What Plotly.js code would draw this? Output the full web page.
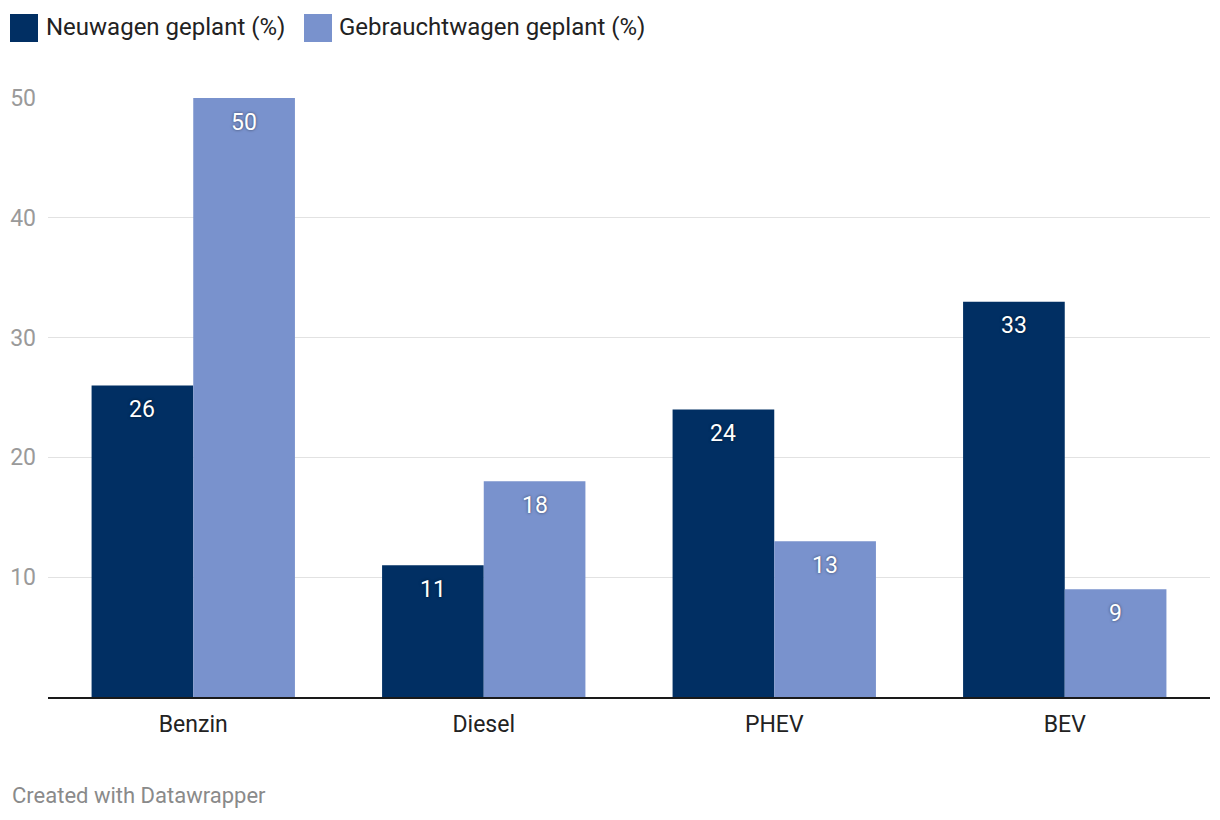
<!DOCTYPE html>
<html>
<head>
<meta charset="utf-8">
<script src="https://cdn.plot.ly/plotly-3.0.1.min.js"></script>
<style>html,body{margin:0;padding:0;background:#fff;}#chart{width:1220px;height:820px;}</style>
</head>
<body>
<div id="chart"></div>
<script>
const categories = ["Benzin", "Diesel", "PHEV", "BEV"];
const neuwagen = [26, 11, 24, 33];
const gebrauchtwagen = [50, 18, 13, 9];
const seriesNames = ["Neuwagen geplant (%)", "Gebrauchtwagen geplant (%)"];
const yTicks = [10, 20, 30, 40, 50];

const colors = ["#012f63", "#7992cd"];
const W = 1220, H = 820;
const margin = {l: 48, r: 10, t: 98, b: 123};
const bargap = 0.3;
const plotW = W - margin.l - margin.r;
const catW = plotW / categories.length;
const barW = catW * (1 - bargap) / 2;

const traces = [neuwagen, gebrauchtwagen].map((vals, i) => ({
  type: "bar",
  name: seriesNames[i],
  x: categories,
  y: vals,
  marker: {color: colors[i], line: {width: 0}},
  hoverinfo: "none",
  showlegend: false
}));

const annotations = [];
[neuwagen, gebrauchtwagen].forEach((vals, i) => {
  vals.forEach((v, j) => {
    annotations.push({
      x: categories[j], y: v, xref: "x", yref: "y",
      text: String(v), showarrow: false,
      xanchor: "center", yanchor: "middle",
      xshift: (i === 0 ? -1 : 1) * barW / 2,
      yshift: -24,
      font: {family: "Roboto", size: 23, color: "#ffffff", shadow: "0px 0px 3px rgba(0,0,0,0.55)"}
    });
  });
});

// Legend (custom, Datawrapper style)
const px = x => (x - margin.l) / plotW;
const py = y => 1 + (margin.t - y) / (H - margin.t - margin.b);
const legendItems = [{sx: 10, tx: 44}, {sx: 304, tx: 337}];
const shapes = [];
legendItems.forEach((it, i) => {
  shapes.push({type: "rect", xref: "paper", yref: "paper",
    x0: px(it.sx), x1: px(it.sx + 28), y0: py(42), y1: py(14),
    fillcolor: colors[i], line: {width: 0}});
  annotations.push({xref: "paper", yref: "paper", x: px(it.tx), y: py(27),
    xanchor: "left", yanchor: "middle", showarrow: false, text: seriesNames[i],
    font: {family: "Roboto", size: 24, color: "#222222"}});
});
annotations.push({xref: "paper", yref: "paper", x: px(10), y: py(795),
  xanchor: "left", yanchor: "middle", showarrow: false, text: "Created with Datawrapper",
  font: {family: "Roboto", size: 22, color: "#8a8a8a"}});

const layout = {
  width: W, height: H,
  margin: margin,
  paper_bgcolor: "#ffffff", plot_bgcolor: "#ffffff",
  barmode: "group", bargap: bargap, bargroupgap: 0,
  font: {family: "Roboto", size: 20, color: "#222"},
  xaxis: {
    type: "category", range: [-0.5, 3.5],
    showgrid: false, zeroline: false,
    showline: true, linecolor: "#1a1a1a", linewidth: 2,
    ticks: "", tickfont: {family: "Roboto", size: 23, color: "#222222"},
    ticklabelstandoff: 5
  },
  yaxis: {
    range: [0, 50], tickvals: yTicks, ticktext: yTicks.map(String),
    showgrid: true, gridcolor: "#e2e2e2", gridwidth: 1,
    zeroline: false, showline: false, ticks: "",
    tickfont: {family: "Roboto", size: 23, color: "#9a9a9a"},
    ticklabelstandoff: 11
  },
  shapes: shapes,
  annotations: annotations,
  showlegend: false
};

Plotly.newPlot("chart", traces, layout, {staticPlot: true, displayModeBar: false});
</script>
</body>
</html>
